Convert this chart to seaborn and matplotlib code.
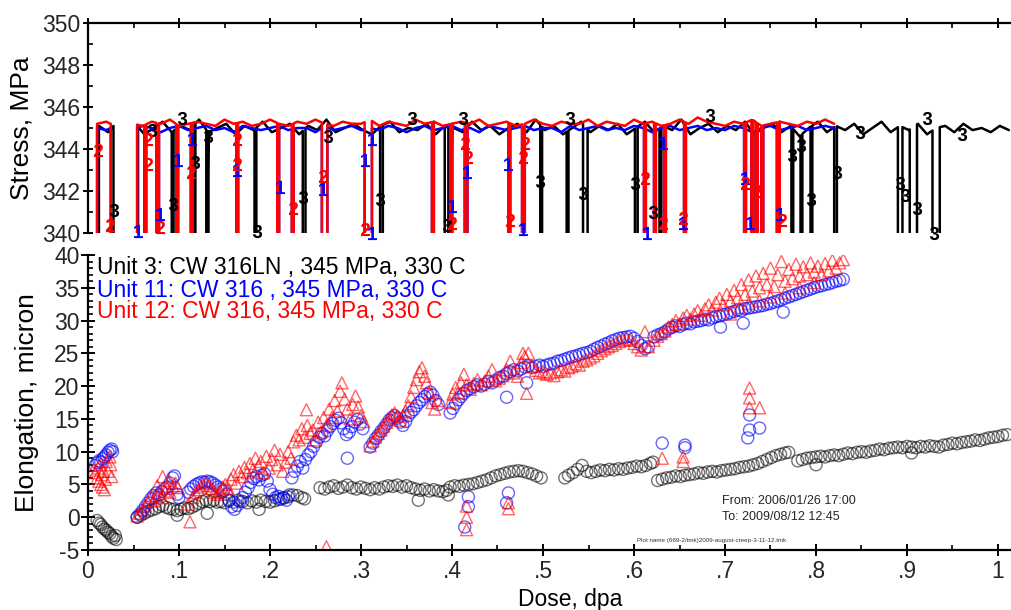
import numpy as np
import matplotlib
matplotlib.use("Agg")
import matplotlib.pyplot as plt
import seaborn as sns
from matplotlib.ticker import MultipleLocator, FixedLocator

# ---------------- stress panel data ----------------
# baseline samples (regular sampling from a start dose with a fixed step)
unit3_base_start, unit3_base_step = 0.012, 0.01
unit3_base = [345.1, 344.8, 345.3, 344.9, 345.2, 344.7, 345.0, 345.3, 344.8, 345.1,
              344.9, 345.4, 344.8, 345.0, 345.2, 344.7, 345.1, 344.9, 345.3, 344.8,
              345.0, 345.2, 344.7, 345.1, 344.9, 345.4, 344.8, 345.0, 345.2, 344.9,
              344.7, 345.1, 345.3, 344.8, 345.0, 344.9, 345.2, 344.7, 345.1, 345.0,
              344.8, 345.3, 344.9, 345.1, 344.7, 345.0, 345.2, 344.8, 345.4, 344.9,
              345.1, 344.7, 345.0, 345.3, 344.8, 345.1, 344.9, 345.2, 344.7, 345.0,
              345.3, 344.8, 345.1, 344.9, 345.4, 344.7, 345.0, 345.2, 344.8, 345.1,
              344.9, 345.3, 344.7, 345.0, 345.2, 344.8, 345.1, 344.6, 345.0, 345.3,
              344.8, 345.1, 344.9, 345.2, 344.7, 345.0, 345.3, 344.8, 345.1, 344.9,
              345.2, 344.7, 345.0, 345.1, 344.8, 345.2, 344.9, 345.0, 344.8, 345.1, 344.9]
unit11_base_start, unit11_base_step = 0.010, 0.01
unit11_base = [345.0, 344.9, 345.1, 345.0, 344.9, 345.1, 345.0, 344.8, 345.0, 345.1,
               344.9, 345.0, 345.1, 344.9, 345.0, 344.8, 345.1, 345.0, 344.9, 345.0,
               345.1, 344.9, 345.0, 345.0, 344.8, 345.1, 344.9, 345.0, 345.1, 344.9,
               345.0, 344.9, 345.1, 345.0, 344.8, 345.0, 345.1, 344.9, 345.0, 345.1,
               344.9, 345.0, 344.8, 345.1, 345.0, 344.9, 345.0, 345.1, 344.9, 345.0,
               345.0, 344.8, 345.1, 344.9, 345.0, 345.1, 344.9, 345.0, 344.9, 345.1,
               345.0, 344.8, 345.0, 345.1, 344.9, 345.0, 345.1, 344.9, 345.0, 344.9,
               345.1, 345.0, 344.8, 345.0, 345.1, 344.9, 345.0, 345.1, 344.9, 345.0,
               345.1, 345.0]
unit12_base_start, unit12_base_step = 0.010, 0.01
unit12_base = [345.2, 345.3, 345.1, 345.4, 345.2, 345.1, 345.3, 345.2, 345.4, 345.1,
               345.2, 345.3, 345.2, 345.1, 345.4, 345.2, 345.3, 345.1, 345.2, 345.4,
               345.2, 345.1, 345.3, 345.2, 345.4, 345.2, 345.1, 345.3, 345.2, 345.2,
               345.4, 345.1, 345.3, 345.2, 345.1, 345.4, 345.2, 345.3, 345.1, 345.2,
               345.3, 345.2, 345.4, 345.1, 345.2, 345.3, 345.1, 345.2, 345.4, 345.2,
               345.1, 345.3, 345.2, 345.2, 345.4, 345.1, 345.3, 345.2, 345.1, 345.4,
               345.2, 345.3, 345.1, 345.2, 345.4, 345.2, 345.5, 345.3, 345.2, 345.1,
               345.3, 345.2, 345.4, 345.1, 345.2, 345.3, 345.2, 345.1, 345.3, 345.2,
               345.4, 345.2]
stress_low = 335.0
# load drops (start dose, end dose)
unit3_drops = [(0.028, 0.055), (0.092, 0.094), (0.116, 0.118), (0.130, 0.132), (0.183, 0.185),
               (0.236, 0.239), (0.321, 0.324), (0.392, 0.396), (0.497, 0.499), (0.526, 0.528),
               (0.544, 0.549), (0.601, 0.604), (0.628, 0.630), (0.773, 0.775), (0.783, 0.785),
               (0.794, 0.796), (0.820, 0.823), (0.890, 0.895), (0.903, 0.911), (0.928, 0.936)]
unit12_drops = [(0.025, 0.054), (0.062, 0.064), (0.075, 0.078), (0.097, 0.099), (0.113, 0.115),
                (0.163, 0.165), (0.208, 0.210), (0.224, 0.226), (0.257, 0.263), (0.304, 0.312),
                (0.378, 0.380), (0.398, 0.400), (0.414, 0.417), (0.462, 0.464), (0.477, 0.480),
                (0.611, 0.613), (0.622, 0.624), (0.633, 0.635), (0.655, 0.657), (0.721, 0.723),
                (0.729, 0.731), (0.734, 0.736), (0.740, 0.742), (0.757, 0.760)]
unit11_drops = unit12_drops
# digit markers on the stress traces
unit3_mark_dose = [0.029, 0.070, 0.093, 0.103, 0.118, 0.132, 0.186, 0.236, 0.264, 0.321, 0.394,
                   0.356, 0.412, 0.497, 0.530, 0.544, 0.601, 0.621, 0.684, 0.774, 0.784, 0.795,
                   0.823, 0.848, 0.892, 0.898, 0.911, 0.930, 0.922, 0.960]
unit3_mark_stress = [341.1, 344.9, 341.4, 345.5, 343.4, 344.6, 340.1, 341.7, 344.6, 341.6, 340.4,
                     345.5, 345.5, 342.5, 345.5, 341.9, 342.4, 341.0, 345.6, 343.7, 344.2, 341.6,
                     342.9, 344.8, 342.4, 341.8, 341.2, 340.0, 345.5, 344.7]
unit12_mark_dose = [0.011, 0.024, 0.066, 0.066, 0.079, 0.113, 0.164, 0.164, 0.225, 0.258, 0.304,
                    0.414, 0.418, 0.400, 0.464, 0.480, 0.478, 0.612, 0.632, 0.654, 0.722, 0.735, 0.763]
unit12_mark_stress = [343.95, 340.4, 344.5, 343.3, 340.3, 342.9, 344.5, 343.3, 341.2, 342.7, 340.2,
                      344.3, 343.6, 340.5, 340.6, 344.3, 343.6, 342.6, 340.5, 340.7, 342.4, 342.0, 340.6]
unit11_mark_dose = [0.055, 0.079, 0.114, 0.099, 0.164, 0.211, 0.258, 0.312, 0.304, 0.312, 0.416,
                    0.400, 0.462, 0.478, 0.632, 0.614, 0.654, 0.722, 0.727, 0.760]
unit11_mark_stress = [340.1, 340.9, 344.5, 343.5, 343.0, 342.2, 342.1, 344.5, 343.5, 340.0, 342.9,
                      341.3, 343.3, 340.2, 344.3, 340.0, 340.5, 342.6, 340.5, 340.9]

# ---------------- elongation panel data ----------------
unit3_dose = [0.010, 0.012, 0.014, 0.016, 0.018, 0.020, 0.022, 0.024, 0.026, 0.028, 0.030, 0.031,
              0.054, 0.058, 0.062, 0.066, 0.070, 0.074, 0.078, 0.082, 0.086, 0.090,
              0.094, 0.098, 0.102, 0.106, 0.110, 0.114, 0.118, 0.122, 0.126, 0.130,
              0.134, 0.138, 0.142, 0.146, 0.150, 0.155, 0.160, 0.165, 0.170, 0.175,
              0.180, 0.185, 0.190, 0.195, 0.200, 0.205, 0.210, 0.215, 0.220, 0.225,
              0.230, 0.235, 0.238,
              0.255, 0.260, 0.265, 0.270, 0.275, 0.280, 0.285, 0.290, 0.295, 0.300,
              0.305, 0.310, 0.315, 0.320, 0.325, 0.330, 0.335, 0.340, 0.345, 0.350,
              0.355, 0.360, 0.365, 0.370, 0.375, 0.380, 0.385, 0.390, 0.394,
              0.398, 0.403, 0.408, 0.413, 0.418, 0.423, 0.428, 0.433, 0.438, 0.443,
              0.448, 0.453, 0.458, 0.463, 0.468, 0.473, 0.478, 0.483, 0.488, 0.493, 0.498,
              0.524, 0.528, 0.533, 0.538, 0.543, 0.548, 0.553, 0.558, 0.563, 0.568,
              0.573, 0.578, 0.583, 0.588, 0.593, 0.598, 0.603, 0.608, 0.613, 0.618, 0.621,
              0.626, 0.631, 0.636, 0.641, 0.646, 0.651, 0.656, 0.661, 0.666, 0.671,
              0.676, 0.681, 0.686, 0.691, 0.696, 0.701, 0.706, 0.711, 0.716, 0.721,
              0.726, 0.731, 0.736, 0.741, 0.746, 0.751, 0.756, 0.761, 0.766, 0.770,
              0.780, 0.785, 0.790, 0.795, 0.800, 0.805, 0.810, 0.815, 0.820, 0.825,
              0.830, 0.835, 0.840, 0.845, 0.850, 0.855, 0.860, 0.865, 0.870, 0.875,
              0.880, 0.885, 0.890, 0.895, 0.900, 0.905, 0.910, 0.915, 0.920, 0.925,
              0.930, 0.935, 0.940, 0.945, 0.950, 0.955, 0.960, 0.965, 0.970, 0.975,
              0.980, 0.985, 0.990, 0.995, 1.000, 1.005, 1.010,
              0.098, 0.131, 0.188, 0.363, 0.396, 0.800, 0.905]
unit3_elong = [-0.5, -0.9, -1.1, -1.5, -1.8, -2.0, -2.3, -2.5, -2.9, -3.2, -2.8, -3.4,
               0.0, 0.3, 0.6, 0.9, 1.1, 1.3, 1.6, 1.8, 1.5, 1.3,
               1.2, 1.0, 1.2, 1.4, 1.3, 1.5, 1.8, 2.1, 2.4, 2.6,
               2.4, 2.6, 2.3, 2.4, 2.2, 2.5, 2.3, 2.6, 2.4, 2.2,
               2.5, 2.3, 2.6, 2.4, 2.3, 2.5, 2.7, 2.9, 3.1, 3.4,
               3.3, 3.0, 2.8,
               4.5, 4.3, 4.6, 4.8, 4.4, 4.6, 4.9, 4.5, 4.3, 4.6,
               4.4, 4.2, 4.5, 4.3, 4.6, 4.8, 4.7, 4.9, 4.6, 4.8,
               4.5, 4.3, 4.1, 4.3, 4.0, 4.2, 4.0, 3.9, 4.1,
               4.6, 4.8, 4.7, 4.9, 5.0, 5.1, 5.3, 5.5, 5.7, 6.0,
               6.3, 6.5, 6.7, 6.9, 7.0, 7.1, 7.0, 6.8, 6.6, 6.3, 6.0,
               6.0, 6.4, 6.8, 7.3, 7.9, 7.0, 6.8, 7.0, 7.2, 7.1,
               7.3, 7.2, 7.4, 7.3, 7.5, 7.6, 7.8, 7.7, 7.9, 8.2, 8.4,
               5.6, 5.8, 6.0, 6.1, 6.3, 6.2, 6.4, 6.5, 6.6, 6.8,
               6.7, 6.9, 7.0, 6.9, 7.1, 7.2, 7.3, 7.4, 7.6, 7.7,
               7.8, 8.0, 8.2, 8.5, 8.8, 9.1, 9.4, 9.6, 9.8, 9.9,
               8.6, 8.8, 9.0, 9.1, 9.2, 9.3, 9.2, 9.4, 9.5, 9.4,
               9.6, 9.8, 9.7, 9.9, 10.0, 9.9, 10.1, 10.2, 10.4, 10.3,
               10.5, 10.6, 10.7, 10.6, 10.8, 10.7, 10.6, 10.8, 10.7, 10.9,
               10.8, 10.7, 11.0, 11.1, 11.3, 11.2, 11.4, 11.5, 11.6, 11.8,
               11.7, 11.9, 12.1, 12.2, 12.3, 12.5, 12.6,
               0.3, 0.6, 1.2, 2.6, 3.4, 8.0, 9.8]

unit11_dose = [0.008, 0.010, 0.012, 0.014, 0.016, 0.018, 0.020, 0.022, 0.024, 0.026, 0.027,
               0.054, 0.057, 0.060, 0.063, 0.066, 0.069, 0.072, 0.075, 0.078, 0.081,
               0.084, 0.087, 0.090, 0.093, 0.095, 0.098, 0.100,
               0.110, 0.113, 0.116, 0.119, 0.122, 0.125, 0.128, 0.131, 0.134, 0.137,
               0.140, 0.143, 0.146, 0.149, 0.152, 0.155, 0.158, 0.161, 0.164, 0.167,
               0.170, 0.173, 0.176, 0.179, 0.182, 0.185, 0.188, 0.191, 0.194, 0.197,
               0.200, 0.203, 0.206, 0.209, 0.212, 0.215, 0.218, 0.221,
               0.224, 0.227, 0.230, 0.233, 0.236, 0.239, 0.242, 0.245, 0.248, 0.251,
               0.254, 0.257, 0.260, 0.263, 0.266, 0.269, 0.272, 0.275, 0.278, 0.281,
               0.284, 0.287, 0.290, 0.293, 0.296, 0.299, 0.302,
               0.310, 0.313, 0.316, 0.319, 0.322, 0.325, 0.328, 0.331, 0.334, 0.337,
               0.340, 0.343, 0.346, 0.349, 0.352, 0.355, 0.358, 0.361, 0.364, 0.367,
               0.370, 0.373, 0.376, 0.379, 0.382, 0.385,
               0.398, 0.401, 0.404, 0.407, 0.410, 0.413, 0.416, 0.420, 0.424, 0.428,
               0.432, 0.436, 0.440, 0.444, 0.448, 0.452, 0.456, 0.460, 0.464, 0.468,
               0.472, 0.476, 0.480, 0.484, 0.488, 0.492, 0.496, 0.500,
               0.504, 0.508, 0.512, 0.516, 0.520, 0.524, 0.528, 0.532, 0.536, 0.540,
               0.544, 0.548, 0.552, 0.556, 0.560, 0.564, 0.568, 0.572, 0.576, 0.580,
               0.584, 0.588, 0.592, 0.596, 0.600, 0.604, 0.608, 0.612, 0.616,
               0.622, 0.626, 0.630, 0.634, 0.638, 0.642, 0.646, 0.650, 0.654, 0.658,
               0.662, 0.666, 0.670, 0.674, 0.678, 0.682, 0.686, 0.690, 0.694, 0.698,
               0.702, 0.706, 0.710, 0.714, 0.718, 0.722, 0.726, 0.730, 0.734, 0.738,
               0.742, 0.746, 0.750, 0.754, 0.758, 0.762, 0.766, 0.770, 0.774, 0.778,
               0.782, 0.786, 0.790, 0.794, 0.798, 0.802, 0.806, 0.810, 0.814, 0.818,
               0.822, 0.826, 0.830,
               0.414, 0.418, 0.418, 0.460, 0.462, 0.460, 0.482, 0.631, 0.656, 0.656,
               0.725, 0.727, 0.727, 0.738, 0.720, 0.695, 0.764, 0.285]
unit11_elong = [7.9, 8.3, 8.6, 8.4, 8.9, 9.2, 9.5, 9.9, 10.2, 10.4, 10.0,
                0.0, 0.5, 1.0, 1.6, 2.2, 2.8, 3.3, 3.7, 3.4, 3.9,
                4.3, 4.6, 5.2, 6.0, 6.3, 3.5, 3.0,
                3.8, 4.3, 4.7, 5.0, 5.2, 5.4, 5.3, 5.5, 5.4, 5.2,
                4.9, 4.6, 4.3, 4.0, 3.5, 2.6, 1.6, 1.2, 1.8, 2.4,
                3.0, 3.8, 4.5, 5.3, 5.9, 6.2, 5.7, 6.4, 6.6, 5.5,
                4.2, 3.5, 3.0, 3.2, 2.8, 3.0, 2.6, 3.4,
                6.0, 7.0, 7.8, 8.5, 7.5, 8.8, 9.5, 10.0, 10.8, 11.5,
                12.2, 12.8, 12.4, 13.2, 13.8, 14.3, 14.8, 15.1, 14.4, 13.5,
                12.6, 13.0, 13.8, 14.5, 14.9, 14.2, 13.5,
                10.7, 11.3, 12.0, 12.5, 13.1, 13.6, 14.2, 14.8, 15.2, 15.5,
                15.1, 14.5, 14.0, 14.6, 15.5, 16.0, 16.4, 17.0, 17.5, 17.9,
                18.4, 18.8, 19.1, 18.6, 17.8, 17.2,
                15.9, 16.6, 17.3, 17.9, 18.4, 18.9, 19.3, 19.6, 19.9, 20.2,
                20.0, 20.3, 20.7, 20.5, 20.9, 21.3, 21.5, 21.9, 22.2, 22.5,
                22.3, 22.6, 22.9, 23.1, 22.8, 23.0, 23.2, 23.0,
                23.2, 23.4, 23.5, 23.8, 23.9, 24.1, 24.3, 24.5, 24.6, 24.8,
                25.0, 25.1, 25.3, 25.6, 25.9, 26.1, 26.4, 26.6, 26.9, 27.1,
                27.3, 27.4, 27.5, 27.6, 27.3, 26.8, 26.2, 25.7, 26.0,
                27.5, 27.8, 28.0, 28.3, 28.7, 29.0, 29.2, 29.1, 29.4, 29.6,
                29.5, 29.8, 29.9, 30.0, 30.2, 30.1, 30.4, 30.6, 30.7, 30.9,
                31.0, 31.2, 31.4, 31.6, 31.5, 31.8, 31.9, 32.0, 32.1, 32.2,
                32.3, 32.5, 32.6, 32.8, 33.0, 33.2, 33.4, 33.6, 33.8, 34.0,
                34.2, 34.4, 34.6, 34.8, 35.0, 35.2, 35.3, 35.5, 35.6, 35.8,
                36.0, 36.1, 36.3,
                -1.5, 1.6, 3.1, 2.2, 3.7, 18.3, 20.5, 11.3, 11.0, 10.6,
                12.1, 13.3, 15.6, 13.6, 29.6, 29.0, 31.3, 9.0]

unit12_dose = [0.006, 0.008, 0.010, 0.011, 0.012, 0.013, 0.014, 0.015, 0.016, 0.017,
               0.018, 0.019, 0.020, 0.022, 0.024, 0.025, 0.026,
               0.054, 0.057, 0.060, 0.063, 0.066, 0.069, 0.072, 0.075, 0.078, 0.081,
               0.084, 0.087, 0.090, 0.093, 0.096, 0.099, 0.082, 0.076, 0.089,
               0.110, 0.112, 0.115, 0.118, 0.121, 0.124, 0.127, 0.130, 0.133, 0.136,
               0.139, 0.142, 0.145, 0.148, 0.151, 0.154, 0.157, 0.160, 0.163, 0.166,
               0.169, 0.172, 0.175, 0.178, 0.181, 0.184, 0.187, 0.190, 0.193, 0.196,
               0.199, 0.202, 0.205, 0.208, 0.211, 0.214, 0.217, 0.220, 0.223,
               0.226, 0.229, 0.232, 0.235, 0.238, 0.241, 0.244, 0.247, 0.250, 0.253,
               0.256, 0.259, 0.262, 0.265, 0.268, 0.271, 0.274, 0.277, 0.279, 0.282,
               0.285, 0.288, 0.291, 0.294, 0.297, 0.300, 0.303, 0.240, 0.262,
               0.310, 0.313, 0.316, 0.319, 0.322, 0.325, 0.328, 0.331, 0.334, 0.337,
               0.340, 0.343, 0.346, 0.349, 0.352, 0.355, 0.358, 0.361, 0.364, 0.367,
               0.370, 0.372, 0.375, 0.378, 0.381, 0.384,
               0.398, 0.401, 0.404, 0.407, 0.410, 0.413, 0.416, 0.420, 0.424, 0.428,
               0.432, 0.436, 0.440, 0.444, 0.448, 0.452, 0.456, 0.460, 0.464, 0.468,
               0.472, 0.476, 0.480, 0.484, 0.488, 0.492, 0.496, 0.500,
               0.504, 0.508, 0.512, 0.516, 0.520, 0.524, 0.528, 0.532, 0.536, 0.540,
               0.544, 0.548, 0.552, 0.556, 0.560, 0.564, 0.568, 0.572, 0.576, 0.580,
               0.584, 0.588, 0.592, 0.596, 0.600, 0.604, 0.608, 0.612, 0.616,
               0.622, 0.626, 0.630, 0.634, 0.638, 0.642, 0.646, 0.650, 0.654, 0.658,
               0.662, 0.666, 0.670, 0.674, 0.678, 0.682, 0.686, 0.690, 0.694, 0.698,
               0.702, 0.706, 0.710, 0.714, 0.718, 0.722, 0.726, 0.730, 0.734, 0.738,
               0.742, 0.746, 0.750, 0.754, 0.758, 0.762, 0.766, 0.770, 0.774, 0.778,
               0.782, 0.786, 0.790, 0.794, 0.798, 0.802, 0.806, 0.810, 0.814, 0.818,
               0.822, 0.826, 0.830,
               0.706, 0.716, 0.726, 0.738, 0.750, 0.766, 0.782, 0.798,
               0.416, 0.416, 0.416, 0.462, 0.462, 0.478, 0.482, 0.631, 0.654, 0.654,
               0.727, 0.727, 0.727, 0.738]
unit12_elong = [7.2, 6.8, 6.0, 7.5, 5.5, 8.0, 5.0, 6.5, 4.6, 7.0,
                4.2, 5.8, 8.5, 7.0, 9.2, 8.0, 6.2,
                0.2, 0.6, 1.2, 1.8, 2.4, 3.0, 2.5, 3.2, 3.6, 3.0,
                4.0, 4.4, 3.8, 4.8, 5.2, 4.5, 6.2, 4.8, 5.6,
                2.0, -0.7, 3.0, 3.8, 4.2, 4.6, 4.9, 5.2, 4.8, 4.4,
                3.8, 3.5, 4.0, 4.6, 5.0, 4.4, 5.8, 6.5, 5.2, 7.0,
                6.2, 7.6, 6.8, 8.2, 7.2, 9.0, 7.8, 8.5, 6.8, 9.3,
                7.5, 8.8, 10.2, 8.0, 9.6, 7.0, 8.4, 10.0, 9.0,
                11.5, 12.5, 11.8, 13.5, 12.2, 14.0, 12.8, 13.3, 11.8, 14.5,
                13.0, 15.2, 14.0, 16.5, 15.2, 17.8, 16.2, 19.2, 20.5, 18.0,
                16.5, 15.0, 17.2, 18.5, 16.8, 15.5, 14.6, 16.4, -4.5,
                10.9, 11.6, 12.2, 12.8, 13.3, 13.9, 14.5, 15.0, 15.6, 15.9,
                15.4, 14.8, 15.5, 16.2, 17.0, 18.4, 19.8, 21.0, 22.2, 22.8,
                21.5, 20.5, 19.0, 17.5, 16.5, 17.8,
                17.5, 18.8, 19.8, 19.0, 20.5, 21.8, 20.2, 19.5, 20.4, 21.0,
                20.2, 20.8, 21.5, 22.5, 20.8, 21.2, 21.6, 22.5, 23.8, 22.0,
                21.5, 23.6, 24.5, 25.0, 23.0, 22.4, 22.0, 22.2,
                21.8, 22.0, 21.6, 22.2, 22.5, 22.3, 22.8, 23.0, 23.4, 23.2,
                23.8, 24.0, 24.3, 24.6, 25.0, 25.4, 25.7, 26.0, 26.2, 26.5,
                26.8, 27.0, 27.2, 27.0, 26.5, 26.0, 25.5, 28.3, 26.0,
                27.0, 27.6, 28.0, 28.4, 29.0, 29.4, 30.0, 29.5, 30.4, 30.8,
                30.2, 31.0, 31.5, 30.8, 31.8, 32.4, 31.6, 32.8, 33.4, 32.4,
                34.0, 33.0, 34.6, 33.5, 35.5, 34.0, 36.2, 34.5, 36.8, 35.0,
                37.2, 35.5, 38.0, 35.2, 37.0, 39.0, 36.0, 37.8, 36.4, 38.6,
                36.8, 38.2, 37.0, 38.8, 37.4, 38.3, 37.0, 38.7, 37.6, 39.2,
                38.0, 38.8, 39.3,
                31.0, 32.0, 32.6, 33.0, 33.6, 34.2, 35.0, 35.8,
                1.7, 0.0, -1.9, 2.2, 1.3, 25.0, 18.9, 9.0, 9.2, 8.5,
                19.7, 18.2, 16.7, 16.7]

legend_lines = ["Unit 3: CW 316LN , 345 MPa, 330 C",
                "Unit 11: CW 316 , 345 MPa, 330 C",
                "Unit 12: CW 316, 345 MPa, 330 C"]
date_lines = ["From: 2006/01/26 17:00", "To: 2009/08/12 12:45"]
plot_name = "Plot name (669-2/tmk)2009-august-creep-3-11-12.tmk"
x_tick_values = [0, 0.1, 0.2, 0.3, 0.4, 0.5, 0.6, 0.7, 0.8, 0.9, 1.0]
x_tick_labels = ["0", ".1", ".2", ".3", ".4", ".5", ".6", ".7", ".8", ".9", "1"]

BLACK, BLUE, RED = "#000000", "#0000ff", "#ff0000"


def stress_path(start, step, vals, drops, low):
    xb = start + step * np.arange(len(vals))
    pts = [(start, -1, low)] + [(x, 0, v) for x, v in zip(xb, vals)]
    for a, b in drops:
        pts = [p for p in pts if not (a < p[0] < b)]
        pts += [(a, 1, float(np.interp(a, xb, vals))), (a, 2, low),
                (b, 3, low), (b, 4, float(np.interp(b, xb, vals)))]
    pts.sort()
    return [p[0] for p in pts], [p[2] for p in pts]


sns.set_theme(style="white")
plt.rcParams["font.family"] = ["Liberation Sans", "DejaVu Sans"]
plt.rcParams["axes.unicode_minus"] = False
plt.rcParams["mathtext.fontset"] = "custom"
plt.rcParams["mathtext.bf"] = "Liberation Sans:bold"
plt.rcParams["mathtext.rm"] = "Liberation Sans"

W, H = 1012, 610
fig = plt.figure(figsize=(W / 100, H / 100), dpi=100)
ax1 = fig.add_axes([88 / W, 1 - 233 / H, 924 / W, 210 / H])
ax2 = fig.add_axes([88 / W, 1 - 550 / H, 924 / W, 295 / H])
xmax = 924 / 910

# ---- stress panel ----
for start, step, vals, drops, col in [
        (unit3_base_start, unit3_base_step, unit3_base, unit3_drops, BLACK),
        (unit11_base_start, unit11_base_step, unit11_base, unit11_drops, BLUE),
        (unit12_base_start, unit12_base_step, unit12_base, unit12_drops, RED)]:
    xs, ys = stress_path(start, step, vals, drops, stress_low)
    sns.lineplot(x=xs, y=ys, sort=False, estimator=None, ax=ax1, color=col, lw=1.8)

for d, s, col, mk in [(unit3_mark_dose, unit3_mark_stress, BLACK, r"$\mathbf{3}$"),
                      (unit11_mark_dose, unit11_mark_stress, BLUE, r"$\mathbf{1}$"),
                      (unit12_mark_dose, unit12_mark_stress, RED, r"$\mathbf{2}$")]:
    sns.scatterplot(x=d, y=s, ax=ax1, marker=mk, s=90, color=col, linewidth=0,
                    clip_on=False, zorder=5)

ax1.set_xlim(0, xmax)
ax1.set_ylim(340, 350)
for sp in ["bottom", "right"]:
    ax1.spines[sp].set_visible(False)
for sp in ["top", "left"]:
    ax1.spines[sp].set_linewidth(1.6)
    ax1.spines[sp].set_color("black")
ax1.xaxis.set_major_locator(FixedLocator(x_tick_values))
ax1.xaxis.set_minor_locator(MultipleLocator(0.05))
ax1.tick_params(axis="x", which="both", top=True, bottom=False, labeltop=False,
                labelbottom=False)
ax1.tick_params(axis="x", which="major", direction="inout", length=7, width=1.4, color="black")
ax1.tick_params(axis="x", which="minor", direction="in", length=3.5, width=1.2, color="black")
ax1.yaxis.set_major_locator(MultipleLocator(2))
ax1.yaxis.set_minor_locator(MultipleLocator(1))
ax1.tick_params(axis="y", which="both", left=True)
ax1.tick_params(axis="y", which="major", direction="inout", length=7, width=1.4,
                labelsize=16.5, pad=2, color="black")
ax1.tick_params(axis="y", which="minor", direction="in", length=3.5, width=1.2, color="black")
ax1.set_ylabel("Stress, MPa", fontsize=19, color="black")
ax1.yaxis.set_label_coords(-0.0595, 0.5)
ax1.set_xlabel("")

# ---- elongation panel ----
sns.scatterplot(x=unit3_dose, y=unit3_elong, ax=ax2, marker="o", s=75,
                facecolors="none", edgecolors=BLACK, linewidths=1.0, alpha=0.55)
sns.scatterplot(x=unit11_dose, y=unit11_elong, ax=ax2, marker="o", s=75,
                facecolors="none", edgecolors=BLUE, linewidths=1.0, alpha=0.6)
sns.scatterplot(x=unit12_dose, y=unit12_elong, ax=ax2, marker="^", s=75,
                facecolors="none", edgecolors=RED, linewidths=1.0, alpha=0.6)

ax2.set_xlim(0, xmax)
ax2.set_ylim(-5, 40)
for sp in ["top", "right"]:
    ax2.spines[sp].set_visible(False)
for sp in ["bottom", "left"]:
    ax2.spines[sp].set_linewidth(1.6)
    ax2.spines[sp].set_color("black")
ax2.xaxis.set_major_locator(FixedLocator(x_tick_values))
ax2.set_xticklabels(x_tick_labels)
ax2.xaxis.set_minor_locator(MultipleLocator(0.05))
ax2.tick_params(axis="x", which="both", bottom=True)
ax2.tick_params(axis="x", which="major", direction="inout", length=8, width=1.4,
                labelsize=16.5, pad=3, color="black")
ax2.tick_params(axis="x", which="minor", direction="in", length=3.5, width=1.2, color="black")
ax2.yaxis.set_major_locator(MultipleLocator(5))
ax2.yaxis.set_minor_locator(MultipleLocator(1))
ax2.tick_params(axis="y", which="both", left=True)
ax2.tick_params(axis="y", which="major", direction="inout", length=10, width=1.4,
                labelsize=16.5, pad=1, color="black")
ax2.tick_params(axis="y", which="minor", direction="in", length=3.5, width=1.2, color="black")
ax2.set_ylabel("Elongation, micron", fontsize=19, color="black")
ax2.yaxis.set_label_coords(-0.053, 0.5)
ax2.set_xlabel("Dose, dpa", fontsize=16.5, color="black")
ax2.xaxis.set_label_coords(0.5216, -0.128)

for txt, col, yy in zip(legend_lines, [BLACK, BLUE, RED], [0.959, 0.881, 0.807]):
    ax2.text(0.0097, yy, txt, transform=ax2.transAxes, color=col, fontsize=16.5,
             va="center", ha="left")
ax2.text(0.686, 0.167, date_lines[0], transform=ax2.transAxes, fontsize=9, va="center")
ax2.text(0.686, 0.113, date_lines[1], transform=ax2.transAxes, fontsize=9, va="center")
ax2.text(0.594, 0.0315, plot_name, transform=ax2.transAxes, fontsize=4.5, va="center",
         color="#333333")

fig.savefig("out.png", dpi=100)
